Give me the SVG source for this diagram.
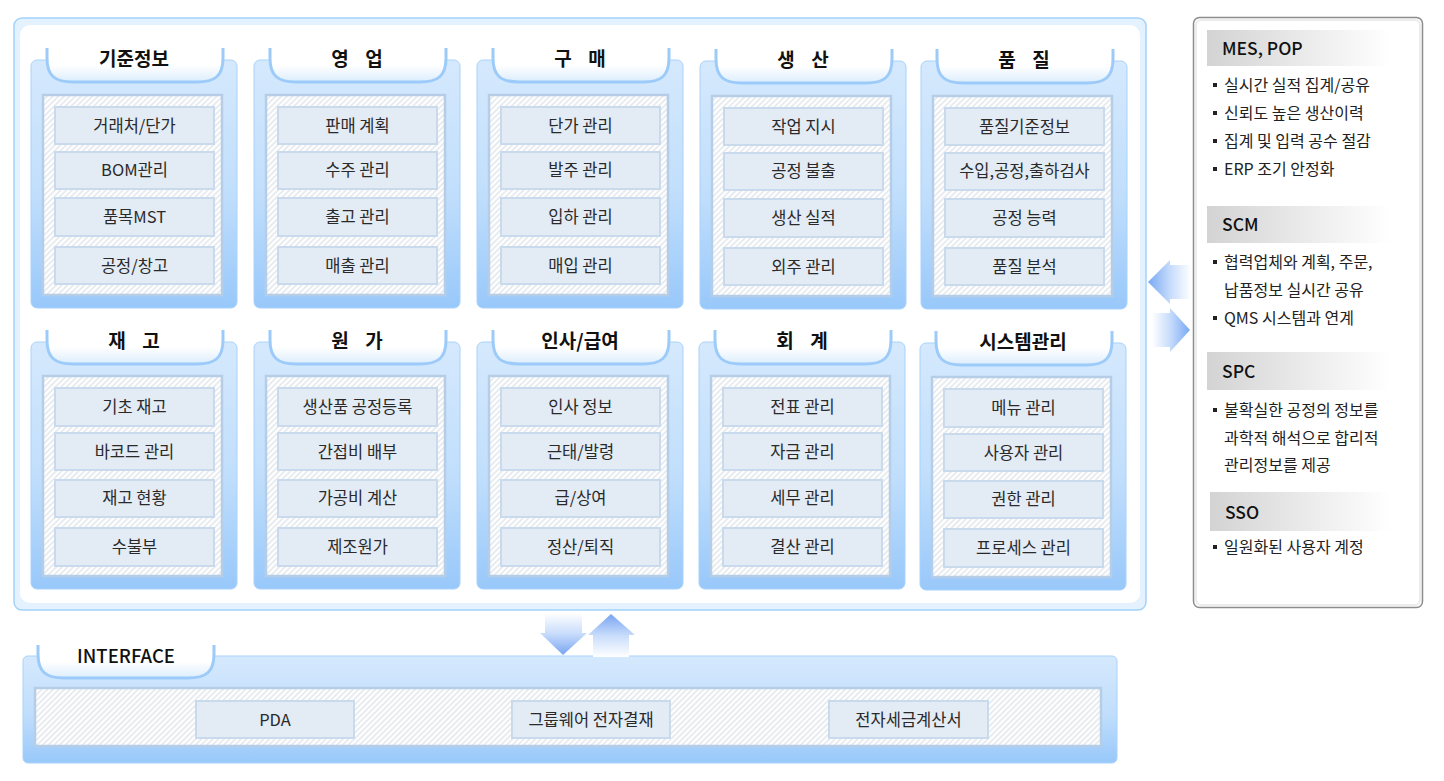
<svg xmlns="http://www.w3.org/2000/svg" width="1444" height="781" viewBox="0 0 1444 781">
<defs>
<linearGradient id="boxg" x1="0" y1="0" x2="0" y2="1">
<stop offset="0" stop-color="#d5e9fd"/><stop offset="0.55" stop-color="#c0defc"/><stop offset="1" stop-color="#98c8fa"/>
</linearGradient>
<linearGradient id="tabg" x1="0" y1="0" x2="0" y2="1">
<stop offset="0" stop-color="#ffffff"/><stop offset="0.5" stop-color="#ffffff"/><stop offset="1" stop-color="#dcedfd"/>
</linearGradient>
<linearGradient id="hdg" x1="0" y1="0" x2="1" y2="0">
<stop offset="0" stop-color="#d3d3d3"/><stop offset="1" stop-color="#ffffff"/>
</linearGradient>
<linearGradient id="arL" x1="0" y1="0" x2="1" y2="0">
<stop offset="0" stop-color="#78a9f4"/><stop offset="0.5" stop-color="#c4dafb"/><stop offset="1" stop-color="#ffffff"/>
</linearGradient>
<linearGradient id="arR" x1="0" y1="0" x2="1" y2="0">
<stop offset="0" stop-color="#ffffff"/><stop offset="0.5" stop-color="#c4dafb"/><stop offset="1" stop-color="#78a9f4"/>
</linearGradient>
<linearGradient id="arD" x1="0" y1="0" x2="0" y2="1">
<stop offset="0" stop-color="#ffffff"/><stop offset="0.5" stop-color="#c8dcfb"/><stop offset="1" stop-color="#78a4f2"/>
</linearGradient>
<linearGradient id="arU" x1="0" y1="0" x2="0" y2="1">
<stop offset="0" stop-color="#78a4f2"/><stop offset="0.5" stop-color="#c8dcfb"/><stop offset="1" stop-color="#ffffff"/>
</linearGradient>
<pattern id="hatch" width="4" height="4" patternUnits="userSpaceOnUse" patternTransform="rotate(45)">
<rect width="4" height="4" fill="#ffffff"/><line x1="1" y1="0" x2="1" y2="4" stroke="#dfe4ea" stroke-width="1.4"/>
</pattern>
<style>
.box{fill:url(#boxg);stroke:#a9d2fb;stroke-width:1}
.tabf{fill:url(#tabg);stroke:none}
.tabs{fill:none;stroke:#9ccbfa;stroke-width:3}
.panel{fill:url(#hatch);stroke:#b6cde7;stroke-width:2.5}
.item{fill:#e3ebf5;stroke:#cadaed;stroke-width:2}
.t{font-family:"Noto Sans CJK KR","Noto Sans",sans-serif;font-size:16.5px;fill:#2a2a2a;text-anchor:middle}
.h{font-family:"Noto Sans CJK KR","Noto Sans",sans-serif;font-size:19px;font-weight:bold;fill:#111;text-anchor:middle;word-spacing:12px}
.rh{font-family:"Noto Sans CJK KR","Noto Sans",sans-serif;font-size:17.5px;font-weight:500;fill:#111}
.rt{font-family:"Noto Sans CJK KR","Noto Sans",sans-serif;font-size:16px;fill:#222}
.bul{fill:#222}
</style>
</defs>
<rect width="1444" height="781" fill="#ffffff"/>

<g id="main-frame">
<rect x="14" y="18" width="1132" height="592" rx="8" fill="#e3f2fe" stroke="#a3d2f9" stroke-width="1.5"/>
<rect x="20" y="25" width="1120" height="578" rx="10" fill="#ffffff"/>
</g>

<g id="m-gijun" transform="translate(31,60)">
<rect class="box" x="0" y="0" width="206" height="248" rx="6"/>
<path class="tabf" d="M16,-12 V-2 C16,16 24,22 42,22 H166 C184,22 192,16 192,-2 V-12 Z"/>
<path class="tabs" d="M16,-12 V-2 C16,16 24,22 42,22 H166 C184,22 192,16 192,-2 V-12"/>
<text class="h" x="103" y="6">기준정보</text>
<rect class="panel" x="12" y="35" width="179" height="200"/>
<rect class="item" x="24" y="47" width="159" height="37"/><rect class="item" x="24" y="92" width="159" height="37"/>
<rect class="item" x="24" y="138" width="159" height="38"/><rect class="item" x="24" y="187" width="159" height="37"/>
<text class="t" x="103.5" y="71.5">거래처/단가</text><text class="t" x="103.5" y="116">BOM관리</text>
<text class="t" x="103.5" y="162.5">품목MST</text><text class="t" x="103.5" y="211.5">공정/창고</text>
</g>

<g id="m-sales" transform="translate(254,60)">
<rect class="box" x="0" y="0" width="206" height="248" rx="6"/>
<path class="tabf" d="M16,-12 V-2 C16,16 24,22 42,22 H166 C184,22 192,16 192,-2 V-12 Z"/>
<path class="tabs" d="M16,-12 V-2 C16,16 24,22 42,22 H166 C184,22 192,16 192,-2 V-12"/>
<text class="h" x="103" y="6">영 업</text>
<rect class="panel" x="12" y="35" width="179" height="200"/>
<rect class="item" x="24" y="47" width="159" height="37"/><rect class="item" x="24" y="92" width="159" height="37"/>
<rect class="item" x="24" y="138" width="159" height="38"/><rect class="item" x="24" y="187" width="159" height="37"/>
<text class="t" x="103.5" y="71.5">판매 계획</text><text class="t" x="103.5" y="116">수주 관리</text>
<text class="t" x="103.5" y="162.5">출고 관리</text><text class="t" x="103.5" y="211.5">매출 관리</text>
</g>

<g id="m-purchase" transform="translate(477,60)">
<rect class="box" x="0" y="0" width="206" height="248" rx="6"/>
<path class="tabf" d="M16,-12 V-2 C16,16 24,22 42,22 H166 C184,22 192,16 192,-2 V-12 Z"/>
<path class="tabs" d="M16,-12 V-2 C16,16 24,22 42,22 H166 C184,22 192,16 192,-2 V-12"/>
<text class="h" x="103" y="6">구 매</text>
<rect class="panel" x="12" y="35" width="179" height="200"/>
<rect class="item" x="24" y="47" width="159" height="37"/><rect class="item" x="24" y="92" width="159" height="37"/>
<rect class="item" x="24" y="138" width="159" height="38"/><rect class="item" x="24" y="187" width="159" height="37"/>
<text class="t" x="103.5" y="71.5">단가 관리</text><text class="t" x="103.5" y="116">발주 관리</text>
<text class="t" x="103.5" y="162.5">입하 관리</text><text class="t" x="103.5" y="211.5">매입 관리</text>
</g>

<g id="m-production" transform="translate(700,61)">
<rect class="box" x="0" y="0" width="206" height="248" rx="6"/>
<path class="tabf" d="M16,-12 V-2 C16,16 24,22 42,22 H166 C184,22 192,16 192,-2 V-12 Z"/>
<path class="tabs" d="M16,-12 V-2 C16,16 24,22 42,22 H166 C184,22 192,16 192,-2 V-12"/>
<text class="h" x="103" y="6">생 산</text>
<rect class="panel" x="12" y="35" width="179" height="200"/>
<rect class="item" x="24" y="47" width="159" height="37"/><rect class="item" x="24" y="92" width="159" height="37"/>
<rect class="item" x="24" y="138" width="159" height="38"/><rect class="item" x="24" y="187" width="159" height="37"/>
<text class="t" x="103.5" y="71.5">작업 지시</text><text class="t" x="103.5" y="116">공정 불출</text>
<text class="t" x="103.5" y="162.5">생산 실적</text><text class="t" x="103.5" y="211.5">외주 관리</text>
</g>

<g id="m-quality" transform="translate(921,61)">
<rect class="box" x="0" y="0" width="206" height="248" rx="6"/>
<path class="tabf" d="M16,-12 V-2 C16,16 24,22 42,22 H166 C184,22 192,16 192,-2 V-12 Z"/>
<path class="tabs" d="M16,-12 V-2 C16,16 24,22 42,22 H166 C184,22 192,16 192,-2 V-12"/>
<text class="h" x="103" y="6">품 질</text>
<rect class="panel" x="12" y="35" width="179" height="200"/>
<rect class="item" x="24" y="47" width="159" height="37"/><rect class="item" x="24" y="92" width="159" height="37"/>
<rect class="item" x="24" y="138" width="159" height="38"/><rect class="item" x="24" y="187" width="159" height="37"/>
<text class="t" x="103.5" y="71.5">품질기준정보</text><text class="t" x="103.5" y="116">수입,공정,출하검사</text>
<text class="t" x="103.5" y="162.5">공정 능력</text><text class="t" x="103.5" y="211.5">품질 분석</text>
</g>

<g id="m-stock" transform="translate(31,342)">
<rect class="box" x="0" y="0" width="206" height="247" rx="6"/>
<path class="tabf" d="M16,-12 V-2 C16,16 24,22 42,22 H166 C184,22 192,16 192,-2 V-12 Z"/>
<path class="tabs" d="M16,-12 V-2 C16,16 24,22 42,22 H166 C184,22 192,16 192,-2 V-12"/>
<text class="h" x="103" y="6">재 고</text>
<rect class="panel" x="12" y="34" width="179" height="200"/>
<rect class="item" x="24" y="46" width="159" height="38"/><rect class="item" x="24" y="91" width="159" height="37"/>
<rect class="item" x="24" y="138" width="159" height="37"/><rect class="item" x="24" y="186" width="159" height="38"/>
<text class="t" x="103.5" y="70.5">기초 재고</text><text class="t" x="103.5" y="115.5">바코드 관리</text>
<text class="t" x="103.5" y="161.5">재고 현황</text><text class="t" x="103.5" y="210.5">수불부</text>
</g>

<g id="m-cost" transform="translate(254,342)">
<rect class="box" x="0" y="0" width="206" height="247" rx="6"/>
<path class="tabf" d="M16,-12 V-2 C16,16 24,22 42,22 H166 C184,22 192,16 192,-2 V-12 Z"/>
<path class="tabs" d="M16,-12 V-2 C16,16 24,22 42,22 H166 C184,22 192,16 192,-2 V-12"/>
<text class="h" x="103" y="6">원 가</text>
<rect class="panel" x="12" y="34" width="179" height="200"/>
<rect class="item" x="24" y="46" width="159" height="38"/><rect class="item" x="24" y="91" width="159" height="37"/>
<rect class="item" x="24" y="138" width="159" height="37"/><rect class="item" x="24" y="186" width="159" height="38"/>
<text class="t" x="103.5" y="70.5">생산품 공정등록</text><text class="t" x="103.5" y="115.5">간접비 배부</text>
<text class="t" x="103.5" y="161.5">가공비 계산</text><text class="t" x="103.5" y="210.5">제조원가</text>
</g>

<g id="m-hr" transform="translate(477,342)">
<rect class="box" x="0" y="0" width="206" height="247" rx="6"/>
<path class="tabf" d="M16,-12 V-2 C16,16 24,22 42,22 H166 C184,22 192,16 192,-2 V-12 Z"/>
<path class="tabs" d="M16,-12 V-2 C16,16 24,22 42,22 H166 C184,22 192,16 192,-2 V-12"/>
<text class="h" x="103" y="6">인사/급여</text>
<rect class="panel" x="12" y="34" width="179" height="200"/>
<rect class="item" x="24" y="46" width="159" height="38"/><rect class="item" x="24" y="91" width="159" height="37"/>
<rect class="item" x="24" y="138" width="159" height="37"/><rect class="item" x="24" y="186" width="159" height="38"/>
<text class="t" x="103.5" y="70.5">인사 정보</text><text class="t" x="103.5" y="115.5">근태/발령</text>
<text class="t" x="103.5" y="161.5">급/상여</text><text class="t" x="103.5" y="210.5">정산/퇴직</text>
</g>

<g id="m-account" transform="translate(699,342)">
<rect class="box" x="0" y="0" width="206" height="247" rx="6"/>
<path class="tabf" d="M16,-12 V-2 C16,16 24,22 42,22 H166 C184,22 192,16 192,-2 V-12 Z"/>
<path class="tabs" d="M16,-12 V-2 C16,16 24,22 42,22 H166 C184,22 192,16 192,-2 V-12"/>
<text class="h" x="103" y="6">회 계</text>
<rect class="panel" x="12" y="34" width="179" height="200"/>
<rect class="item" x="24" y="46" width="159" height="38"/><rect class="item" x="24" y="91" width="159" height="37"/>
<rect class="item" x="24" y="138" width="159" height="37"/><rect class="item" x="24" y="186" width="159" height="38"/>
<text class="t" x="103.5" y="70.5">전표 관리</text><text class="t" x="103.5" y="115.5">자금 관리</text>
<text class="t" x="103.5" y="161.5">세무 관리</text><text class="t" x="103.5" y="210.5">결산 관리</text>
</g>

<g id="m-system" transform="translate(920,343)">
<rect class="box" x="0" y="0" width="206" height="247" rx="6"/>
<path class="tabf" d="M16,-12 V-2 C16,16 24,22 42,22 H166 C184,22 192,16 192,-2 V-12 Z"/>
<path class="tabs" d="M16,-12 V-2 C16,16 24,22 42,22 H166 C184,22 192,16 192,-2 V-12"/>
<text class="h" x="103" y="6">시스템관리</text>
<rect class="panel" x="12" y="34" width="179" height="200"/>
<rect class="item" x="24" y="46" width="159" height="38"/><rect class="item" x="24" y="91" width="159" height="37"/>
<rect class="item" x="24" y="138" width="159" height="37"/><rect class="item" x="24" y="186" width="159" height="38"/>
<text class="t" x="103.5" y="70.5">메뉴 관리</text><text class="t" x="103.5" y="115.5">사용자 관리</text>
<text class="t" x="103.5" y="161.5">권한 관리</text><text class="t" x="103.5" y="210.5">프로세스 관리</text>
</g>

<g id="side-panel">
<rect x="1193.5" y="17.5" width="229" height="590" rx="6" fill="#ffffff" stroke="#8c8c8c" stroke-width="1.5"/>
<rect x="1196" y="20" width="224" height="585" rx="5" fill="none" stroke="#ececec" stroke-width="2"/>
<rect x="1207" y="30" width="183" height="36" fill="url(#hdg)"/>
<text class="rh" x="1222" y="54.5">MES, POP</text>
<rect class="bul" x="1213" y="83" width="4" height="4"/><text class="rt" x="1224" y="90.5">실시간 실적 집계/공유</text>
<rect class="bul" x="1213" y="111" width="4" height="4"/><text class="rt" x="1224" y="118.5">신뢰도 높은 생산이력</text>
<rect class="bul" x="1213" y="139" width="4" height="4"/><text class="rt" x="1224" y="146.5">집계 및 입력 공수 절감</text>
<rect class="bul" x="1213" y="167" width="4" height="4"/><text class="rt" x="1224" y="174.5">ERP 조기 안정화</text>
<rect x="1207" y="206" width="183" height="37" fill="url(#hdg)"/>
<text class="rh" x="1222" y="230.5">SCM</text>
<rect class="bul" x="1213" y="260" width="4" height="4"/><text class="rt" x="1224" y="267.5">협력업체와 계획, 주문,</text>
<text class="rt" x="1224" y="295.5">납품정보 실시간 공유</text>
<rect class="bul" x="1213" y="316" width="4" height="4"/><text class="rt" x="1224" y="323.5">QMS 시스템과 연계</text>
<rect x="1207" y="352" width="183" height="38" fill="url(#hdg)"/>
<text class="rh" x="1222" y="377.5">SPC</text>
<rect class="bul" x="1213" y="408" width="4" height="4"/><text class="rt" x="1224" y="415.5">불확실한 공정의 정보를</text>
<text class="rt" x="1224" y="443.5">과학적 해석으로 합리적</text>
<text class="rt" x="1224" y="470.5">관리정보를 제공</text>
<rect x="1210" y="492" width="180" height="39" fill="url(#hdg)"/>
<text class="rh" x="1225" y="518.5">SSO</text>
<rect class="bul" x="1213" y="545" width="4" height="4"/><text class="rt" x="1224" y="552.5">일원화된 사용자 계정</text>
</g>

<g id="interface">
<rect class="box" x="23" y="656" width="1094" height="107" rx="5"/>
<path class="tabf" d="M38,645 V654 C38,672 46,678 64,678 H188 C206,678 214,672 214,654 V645 Z"/>
<path class="tabs" d="M38,645 V654 C38,672 46,678 64,678 H188 C206,678 214,672 214,654 V645"/>
<text class="h" x="126" y="663" style="font-weight:500;font-size:18.5px">INTERFACE</text>
<rect class="panel" x="35" y="688" width="1066" height="58"/>
<rect class="item" x="196" y="701" width="158" height="37"/>
<rect class="item" x="512" y="701" width="158" height="37"/>
<rect class="item" x="829" y="701" width="159" height="37"/>
<text class="t" x="275" y="725.5">PDA</text>
<text class="t" x="591" y="725.5">그룹웨어 전자결재</text>
<text class="t" x="908.5" y="725.5">전자세금계산서</text>
</g>

<g id="connectors">
<path d="M1148,282 L1170,260 V265 H1191 V299 H1170 V304 Z" fill="url(#arL)"/>
<path d="M1190,330 L1170,308 V313 H1152 V347 H1170 V352 Z" fill="url(#arR)"/>
<path d="M545,613 H582 V633 H587 L563,655 L540,633 H545 Z" fill="url(#arD)"/>
<path d="M611,614 L635,635 H629 V657 H593 V635 H588 Z" fill="url(#arU)"/>
</g>
</svg>
